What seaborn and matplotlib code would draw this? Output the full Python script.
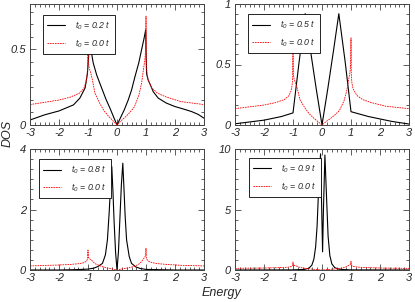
import seaborn as sns
import matplotlib.pyplot as plt
from matplotlib.ticker import MultipleLocator, AutoMinorLocator, FuncFormatter

# t0 = 0.0 t reference curve (same in every panel)
energy_red = [-3, -2.5, -2, -1.6, -1.3, -1.15, -1.07, -1.03, -1.01, -1.0, -0.99, -0.96, -0.9, -0.85,
              -0.76, -0.6, -0.45, -0.3, -0.15, 0, 0.15, 0.3, 0.45, 0.6, 0.76, 0.85, 0.9, 0.96, 0.99,
              1.0, 1.01, 1.03, 1.07, 1.2, 1.4, 1.7, 2.2, 2.6, 3]
dos_red = [0.135, 0.15, 0.165, 0.185, 0.21, 0.24, 0.28, 0.33, 0.40, 0.66, 0.42, 0.38, 0.34, 0.30,
           0.21, 0.145, 0.095, 0.06, 0.03, 0.0, 0.03, 0.055, 0.085, 0.12, 0.2, 0.28, 0.35, 0.43, 0.5,
           0.72, 0.42, 0.35, 0.3, 0.245, 0.21, 0.185, 0.155, 0.145, 0.135]

# t0 = 0.2 t
energy_02 = [-3, -2.5, -2, -1.5, -1.28, -1.1, -1.02, -0.98, -0.95, -0.9, -0.82, -0.7, -0.53, -0.38,
             -0.24, -0.1, 0, 0.1, 0.25, 0.39, 0.5, 0.62, 0.75, 0.85, 0.93, 0.99, 1.0, 1.02, 1.07,
             1.14, 1.25, 1.42, 1.7, 2.0, 2.3, 2.57, 2.8, 3]
dos_02 = [0.033, 0.067, 0.093, 0.133, 0.178, 0.245, 0.34, 0.45, 0.54, 0.5, 0.41, 0.33, 0.245, 0.17,
          0.11, 0.045, 0.0, 0.04, 0.1, 0.167, 0.23, 0.32, 0.41, 0.5, 0.57, 0.63, 0.5, 0.34, 0.3,
          0.27, 0.22, 0.178, 0.145, 0.122, 0.105, 0.089, 0.07, 0.045]

# t0 = 0.5 t
energy_05 = [-3, -2.5, -2, -1.4, -1.0, -0.8, -0.58, -0.4, -0.2, 0, 0.2, 0.4, 0.58, 0.8, 1.0, 1.3,
             1.6, 2.0, 2.4, 3]
dos_05 = [0.01, 0.025, 0.04, 0.07, 0.1, 0.5, 0.92, 0.62, 0.3, 0.0, 0.3, 0.62, 0.92, 0.52, 0.11, 0.09,
          0.07, 0.05, 0.03, 0.008]

# t0 = 0.8 t
energy_08 = [-3, -2, -1.5, -1.2, -1.0, -0.8, -0.65, -0.5, -0.4, -0.33, -0.27, -0.22, -0.18, -0.14,
             -0.1, -0.05, 0, 0.05, 0.1, 0.15, 0.2, 0.24, 0.28, 0.33, 0.42, 0.5, 0.65, 0.8, 1.0, 1.5,
             2, 3]
dos_08 = [0, 0, 0.01, 0.02, 0.03, 0.06, 0.12, 0.22, 0.5, 1.0, 1.9, 2.8, 3.42, 2.6, 1.6, 0.6, 0.0,
          0.6, 1.7, 2.8, 3.53, 2.7, 1.8, 1.0, 0.45, 0.22, 0.1, 0.05, 0.02, 0.01, 0, 0]

# t0 = 0.9 t
energy_09 = [-3, -1, -0.6, -0.45, -0.35, -0.28, -0.22, -0.17, -0.12, -0.05, -0.01, 0.02, 0.05, 0.1,
             0.16, 0.21, 0.27, 0.34, 0.44, 0.55, 0.7, 1.0, 3]
dos_09 = [0, 0.01, 0.05, 0.15, 0.4, 0.9, 1.9, 3.6, 6.5, 9.6, 5.0, 1.5, 5.0, 9.5, 5.8, 2.8, 1.2, 0.5,
          0.2, 0.08, 0.04, 0.01, 0]

labels_t0 = ['0.2', '0.5', '0.8', '0.9']
ylims = [0.8, 1.0, 4.0, 10.0]
ymajor = [0.5, 0.5, 2, 5]

sns.set_style('ticks')
plt.rcParams['font.family'] = ['Liberation Sans', 'DejaVu Sans']
plt.rcParams['font.style'] = 'italic'
plt.rcParams['axes.unicode_minus'] = False
plt.rcParams['mathtext.fontset'] = 'custom'
plt.rcParams['mathtext.it'] = 'Liberation Sans:italic'
plt.rcParams['mathtext.rm'] = 'Liberation Sans:italic'

fig = plt.figure(figsize=(4.15, 3.02), dpi=100)
w, h = 174 / 415, 121 / 302
positions = [(30 / 415, 1 - 125 / 302), (235 / 415, 1 - 125 / 302),
             (30 / 415, 1 - 270 / 302), (235 / 415, 1 - 270 / 302)]
legend_anchor = [(0.075, 0.91), (0.075, 0.915), (0.052, 0.915), (0.08, 0.925)]
black_curves = [(energy_02, dos_02), (energy_05, dos_05), (energy_08, dos_08), (energy_09, dos_09)]

for i in range(4):
    ax = fig.add_axes([positions[i][0], positions[i][1], w, h])
    ex, dy = black_curves[i]
    sns.lineplot(x=ex, y=dy, ax=ax, color='black', lw=0.8, sort=False, estimator=None,
                 label=r'$t_0$ = ' + labels_t0[i] + ' $t$')
    sns.lineplot(x=energy_red, y=dos_red, ax=ax, color='red', lw=0.6, sort=False, estimator=None,
                 linestyle=(0, (2, 1)), label=r'$t_0$ = 0.0 $t$')
    ax.set_xlim(-3, 3)
    ax.set_ylim(0, ylims[i])
    ax.xaxis.set_major_locator(MultipleLocator(1))
    ax.yaxis.set_major_locator(MultipleLocator(ymajor[i]))
    ax.xaxis.set_minor_locator(AutoMinorLocator(6))
    ax.yaxis.set_minor_locator(AutoMinorLocator(6))
    ax.yaxis.set_major_formatter(FuncFormatter(lambda v, p: '%g' % v))
    ax.tick_params(which='both', direction='in', top=True, right=True, width=0.6,
                   labelsize=8, color='#444444')
    ax.tick_params(axis='x', pad=2)
    ax.tick_params(axis='y', pad=3)
    ax.tick_params(which='major', length=4)
    ax.tick_params(which='minor', length=2)
    for s in ax.spines.values():
        s.set_linewidth(0.7)
        s.set_color('#444444')
    ax.set_xlabel('')
    ax.set_ylabel('')
    leg = ax.legend(loc='upper left', bbox_to_anchor=legend_anchor[i], fancybox=False,
                    edgecolor='black', framealpha=1, borderaxespad=0,
                    prop={'family': 'Liberation Sans', 'style': 'italic', 'size': 6.3},
                    handlelength=2.0, borderpad=0.5, labelspacing=0.6, handletextpad=1.2)
    leg.get_frame().set_linewidth(0.6)

fig.text(8 / 415, 1 - 133 / 302, 'DOS', rotation=90, ha='center', va='center', fontsize=9)
fig.text(221 / 415, 1 - 293 / 302, 'Energy', ha='center', va='center', fontsize=9)

fig.savefig('out.png', dpi=100)
